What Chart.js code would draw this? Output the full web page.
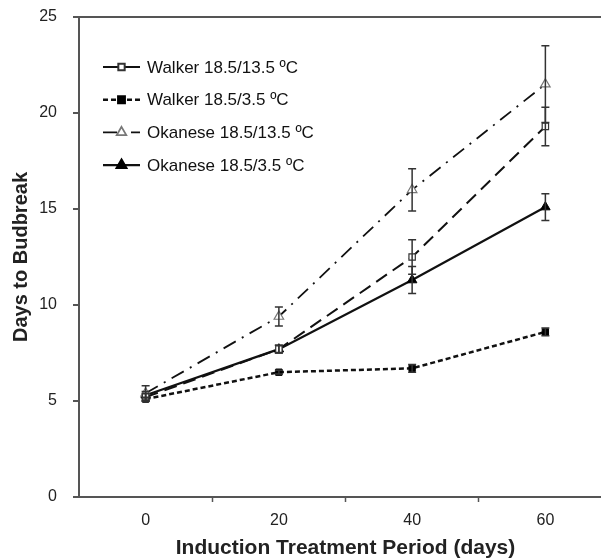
<!DOCTYPE html>
<html>
<head>
<meta charset="utf-8">
<script src="https://cdn.jsdelivr.net/npm/chart.js@4.4.0/dist/chart.umd.min.js"></script>
<style>
  html, body { margin: 0; padding: 0; background: #fff; overflow: hidden; }
  #wrap { width: 601px; height: 560px; overflow: hidden; }
</style>
</head>
<body>
<div id="wrap"><canvas id="budChart" width="621" height="560"></canvas></div>
<script>
// data
const days = [0, 20, 40, 60];
const seriesNames = [
  'Walker 18.5/13.5 \u00baC',
  'Walker 18.5/3.5 \u00baC',
  'Okanese 18.5/13.5 \u00baC',
  'Okanese 18.5/3.5 \u00baC'
];
const walkerWarm = [5.2, 7.7, 12.5, 19.3];
const walkerCold = [5.1, 6.5, 6.7, 8.6];
const okaneseWarm = [5.4, 9.4, 16.0, 21.5];
const okaneseCold = [5.3, 7.7, 11.3, 15.1];

const walkerWarmErr = [0.2, 0.2, 0.9, 1.0];
const walkerColdErr = [0.1, 0.1, 0.2, 0.2];
const okaneseWarmErr = [0.4, 0.5, 1.1, 2.0];
const okaneseColdErr = [0.2, 0.2, 0.7, 0.7];

const xTicks = [0, 20, 40, 60];
const yTicks = [0, 5, 10, 15, 20, 25];

const toPoints = (vals) => vals.map((v, i) => ({ x: days[i], y: v }));
const errors = [walkerWarmErr, walkerColdErr, okaneseWarmErr, okaneseColdErr];

const FONT = '"Liberation Sans", Arial, sans-serif';

// error bars, drawn through the chart scales
const errorBarPlugin = {
  id: 'errorBars',
  afterDatasetsDraw(chart) {
    const ctx = chart.ctx;
    const xs = chart.scales.x, ys = chart.scales.y;
    ctx.save();
    ctx.strokeStyle = '#333';
    ctx.lineWidth = 1.5;
    chart.data.datasets.forEach((ds, i) => {
      ds.data.forEach((p, j) => {
        const e = errors[i][j];
        const x = xs.getPixelForValue(p.x);
        const yt = ys.getPixelForValue(p.y + e);
        const yb = ys.getPixelForValue(p.y - e);
        ctx.beginPath();
        ctx.moveTo(x, yt); ctx.lineTo(x, yb);
        ctx.moveTo(x - 4, yt); ctx.lineTo(x + 4, yt);
        ctx.moveTo(x - 4, yb); ctx.lineTo(x + 4, yb);
        ctx.stroke();
      });
    });
    ctx.restore();
  }
};

// legend inside the plot, line sample + marker + label
const insideLegend = {
  id: 'insideLegend',
  afterDraw(chart) {
    const ctx = chart.ctx;
    const area = chart.chartArea;
    ctx.save();
    chart.data.datasets.forEach((ds, i) => {
      const y = area.top + 50 + i * 32.7;
      const x0 = area.left + 24, x1 = area.left + 61;
      ctx.strokeStyle = '#111';
      ctx.lineWidth = ds.borderWidth;
      ctx.setLineDash(ds.legendDash || []);
      ctx.beginPath();
      ctx.moveTo(x0, y); ctx.lineTo(x1, y);
      ctx.stroke();
      ctx.setLineDash([]);
      ctx.fillStyle = ds.pointBackgroundColor;
      ctx.strokeStyle = ds.pointBorderColor;
      Chart.helpers.drawPoint(ctx, {
        pointStyle: ds.pointStyle,
        radius: ds.pointRadius,
        borderWidth: ds.pointBorderWidth,
        rotation: 0
      }, (x0 + x1) / 2, y);
      ctx.fillStyle = '#111';
      ctx.font = '17px ' + FONT;
      ctx.textBaseline = 'middle';
      ctx.fillText(ds.label, x1 + 7, y + 1);
    });
    ctx.restore();
  }
};

new Chart(document.getElementById('budChart').getContext('2d'), {
  type: 'line',
  data: {
    datasets: [
      {
        label: seriesNames[0],
        data: toPoints(walkerWarm),
        borderColor: '#111',
        borderWidth: 2,
        borderDash: [13, 7],
        legendDash: [],
        pointStyle: 'rect',
        pointRadius: 4.5,
        pointBackgroundColor: '#fff',
        pointBorderColor: '#333',
        pointBorderWidth: 1.2
      },
      {
        label: seriesNames[1],
        data: toPoints(walkerCold),
        borderColor: '#111',
        borderWidth: 2.5,
        borderDash: [5, 3],
        legendDash: [5, 3],
        pointStyle: 'rect',
        pointRadius: 4.5,
        pointBackgroundColor: '#000',
        pointBorderColor: '#000',
        pointBorderWidth: 1
      },
      {
        label: seriesNames[2],
        data: toPoints(okaneseWarm),
        borderColor: '#111',
        borderWidth: 1.8,
        borderDash: [14, 7, 2, 7],
        legendDash: [14, 6, 2, 6],
        pointStyle: 'triangle',
        pointRadius: 5.5,
        pointBackgroundColor: '#fff',
        pointBorderColor: '#777',
        pointBorderWidth: 1.2
      },
      {
        label: seriesNames[3],
        data: toPoints(okaneseCold),
        borderColor: '#111',
        borderWidth: 2.2,
        borderDash: [],
        legendDash: [],
        pointStyle: 'triangle',
        pointRadius: 5.5,
        pointBackgroundColor: '#000',
        pointBorderColor: '#000',
        pointBorderWidth: 1
      }
    ]
  },
  options: {
    responsive: false,
    animation: false,
    layout: { padding: { top: 17, right: 0, bottom: 0, left: 0 } },
    plugins: {
      legend: { display: false },
      tooltip: { enabled: false }
    },
    scales: {
      x: {
        type: 'linear',
        min: -10,
        max: 70,
        afterBuildTicks: (s) => {
          // labels at the days, tick marks between them
          const t = [];
          for (let v = -10; v <= 70; v += 10) t.push({ value: v });
          s.ticks = t;
        },
        afterFit: (s) => { s.height = 63; },
        ticks: {
          autoSkip: false,
          maxRotation: 0,
          padding: 9,
          color: '#222',
          font: { family: FONT, size: 16 },
          callback: (v) => xTicks.includes(v) ? String(v) : ''
        },
        grid: {
          drawOnChartArea: false,
          tickLength: 5,
          tickWidth: 1.5,
          tickColor: (c) => (c.tick && c.tick.value % 20 !== 0 && c.tick.value > -10 && c.tick.value < 70) ? '#555' : 'transparent'
        },
        border: { color: '#555', width: 2 },
        title: {
          display: true,
          text: 'Induction Treatment Period (days)',
          color: '#222',
          font: { family: FONT, size: 21, weight: 'bold' },
          padding: { top: 0, bottom: -1 }
        }
      },
      y: {
        min: 0,
        max: 25,
        afterBuildTicks: (s) => { s.ticks = yTicks.map(v => ({ value: v })); },
        afterFit: (s) => {
          s.width = 79;
          // label padding would otherwise push the plot top down
          s.paddingTop = 0;
          s.paddingBottom = 0;
        },
        ticks: {
          padding: 16,
          color: '#222',
          font: { family: FONT, size: 16 }
        },
        grid: {
          drawOnChartArea: true,
          tickLength: 6,
          lineWidth: 2,
          color: (c) => (c.tick && c.tick.value === 25) ? '#555' : 'transparent',
          tickColor: '#555'
        },
        border: { color: '#555', width: 2 },
        title: {
          display: true,
          text: 'Days to Budbreak',
          color: '#222',
          font: { family: FONT, size: 20, weight: 'bold' },
          padding: { top: 9, bottom: 0 }
        }
      }
    }
  },
  plugins: [errorBarPlugin, insideLegend]
});
</script>
</body>
</html>
